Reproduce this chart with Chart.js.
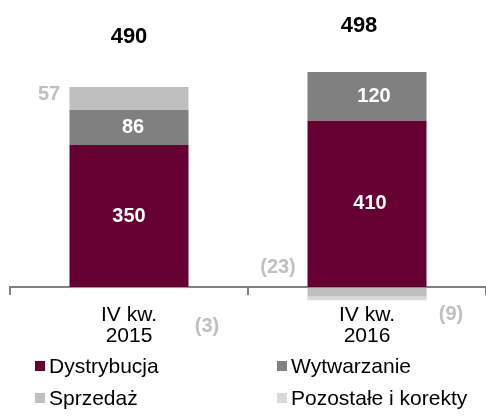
<!DOCTYPE html>
<html>
<head>
<meta charset="utf-8">
<script src="https://cdn.jsdelivr.net/npm/chart.js@4/dist/chart.umd.min.js"></script>
<style>
  body { margin: 0; background: #fff; overflow: hidden; }
  #wrap { position: relative; width: 486px; height: 417px; }
  #legend { position: absolute; left: 0; top: 0; width: 486px; height: 417px; pointer-events: none;
            font-family: "Liberation Sans", Arial, sans-serif; font-size: 21px; color: #000; }
  .item { position: absolute; display: flex; align-items: center; height: 24px; line-height: 24px; white-space: nowrap; }
  .box { width: 10px; height: 10px; margin-right: 4px; }
</style>
</head>
<body>
<div id="wrap">
  <canvas id="chart" width="486" height="417"></canvas>
  <div id="legend"></div>
</div>
<script>
// dane
const categories = [["IV kw.", "2015"], ["IV kw.", "2016"]];
const dystrybucja = [350, 410];
const wytwarzanie = [86, 120];
const sprzedaz = [57, -23];
const pozostale = [-3, -9];

const FONT = '"Liberation Sans", Arial, sans-serif';
const COLORS = {
    dystrybucja: '#660033',
    wytwarzanie: '#808080',
    sprzedaz: '#BFBFBF',
    pozostale: '#D9D9D9'
};

// przesunięcia etykiet względem środka segmentu [dx, dy]
const labelStyles = [
    { color: '#fff', offsets: [[0, 0], [3, 0]] },
    { color: '#fff', offsets: [[4, 0], [7, 0]] },
    { color: '#BFBFBF', offsets: [[-80, -4], [-89, -24]] },
    { color: '#BFBFBF', offsets: [[78, 39], [84, 16]] }
];
const totalOffsets = [[0, -50], [-8, -46]];

function fmt(v) {
    return v < 0 ? "(" + Math.abs(v) + ")" : "" + v;
}

const labelPlugin = {
    id: 'barLabels',
    afterDatasetsDraw(chart) {
        const ctx = chart.ctx;
        ctx.save();
        ctx.textAlign = 'center';
        ctx.textBaseline = 'middle';
        ctx.font = 'bold 20px ' + FONT;
        chart.data.datasets.forEach(function(ds, di) {
            const meta = chart.getDatasetMeta(di);
            meta.data.forEach(function(bar, i) {
                const off = labelStyles[di].offsets[i];
                ctx.fillStyle = labelStyles[di].color;
                ctx.fillText(fmt(ds.data[i]), bar.x + off[0], (bar.y + bar.base) / 2 + off[1]);
            });
        });
        // sumy
        ctx.font = 'bold 22px ' + FONT;
        ctx.fillStyle = '#000';
        const yScale = chart.scales.y;
        categories.forEach(function(c, i) {
            var total = 0, top = 0;
            chart.data.datasets.forEach(function(ds) {
                total += ds.data[i];
                if (ds.data[i] > 0) top += ds.data[i];
            });
            const x = chart.getDatasetMeta(0).data[i].x;
            ctx.fillText(fmt(total), x + totalOffsets[i][0], yScale.getPixelForValue(top) + totalOffsets[i][1]);
        });
        ctx.restore();
    }
};

const ctx = document.getElementById('chart').getContext('2d');
const myChart = new Chart(ctx, {
    type: 'bar',
    data: {
        labels: categories,
        datasets: [
            { label: 'Dystrybucja', data: dystrybucja, backgroundColor: COLORS.dystrybucja },
            { label: 'Wytwarzanie', data: wytwarzanie, backgroundColor: COLORS.wytwarzanie },
            { label: 'Sprzedaż', data: sprzedaz, backgroundColor: COLORS.sprzedaz },
            { label: 'Pozostałe i korekty', data: pozostale, backgroundColor: COLORS.pozostale }
        ]
    },
    options: {
        responsive: false,
        animation: false,
        events: [],
        layout: { padding: { left: 10, right: 0, top: 11, bottom: 73 } },
        datasets: { bar: { categoryPercentage: 1, barPercentage: 0.5, borderWidth: 0 } },
        plugins: { legend: { display: false }, tooltip: { enabled: false } },
        scales: {
            x: {
                stacked: true,
                position: { y: 0 },
                grid: { offset: true, drawOnChartArea: false, drawTicks: true, tickLength: 7, color: '#808080', lineWidth: 2 },
                border: { display: true, color: '#808080', width: 2 },
                ticks: { color: '#000', padding: 10, font: { family: FONT, size: 21, lineHeight: 1.03 } }
            },
            y: {
                stacked: true,
                display: false,
                min: -140,
                max: 680
            }
        }
    },
    plugins: [labelPlugin]
});

// legenda
const legendPos = [[35, 354], [277, 354], [35, 386], [277, 386]];
myChart.data.datasets.forEach(function(ds, i) {
    const item = document.createElement('div');
    item.className = 'item';
    item.style.left = legendPos[i][0] + 'px';
    item.style.top = legendPos[i][1] + 'px';
    item.innerHTML = '<span class="box" style="background:' + ds.backgroundColor + '"></span><span>' + ds.label + '</span>';
    document.getElementById('legend').appendChild(item);
});
</script>
</body>
</html>
